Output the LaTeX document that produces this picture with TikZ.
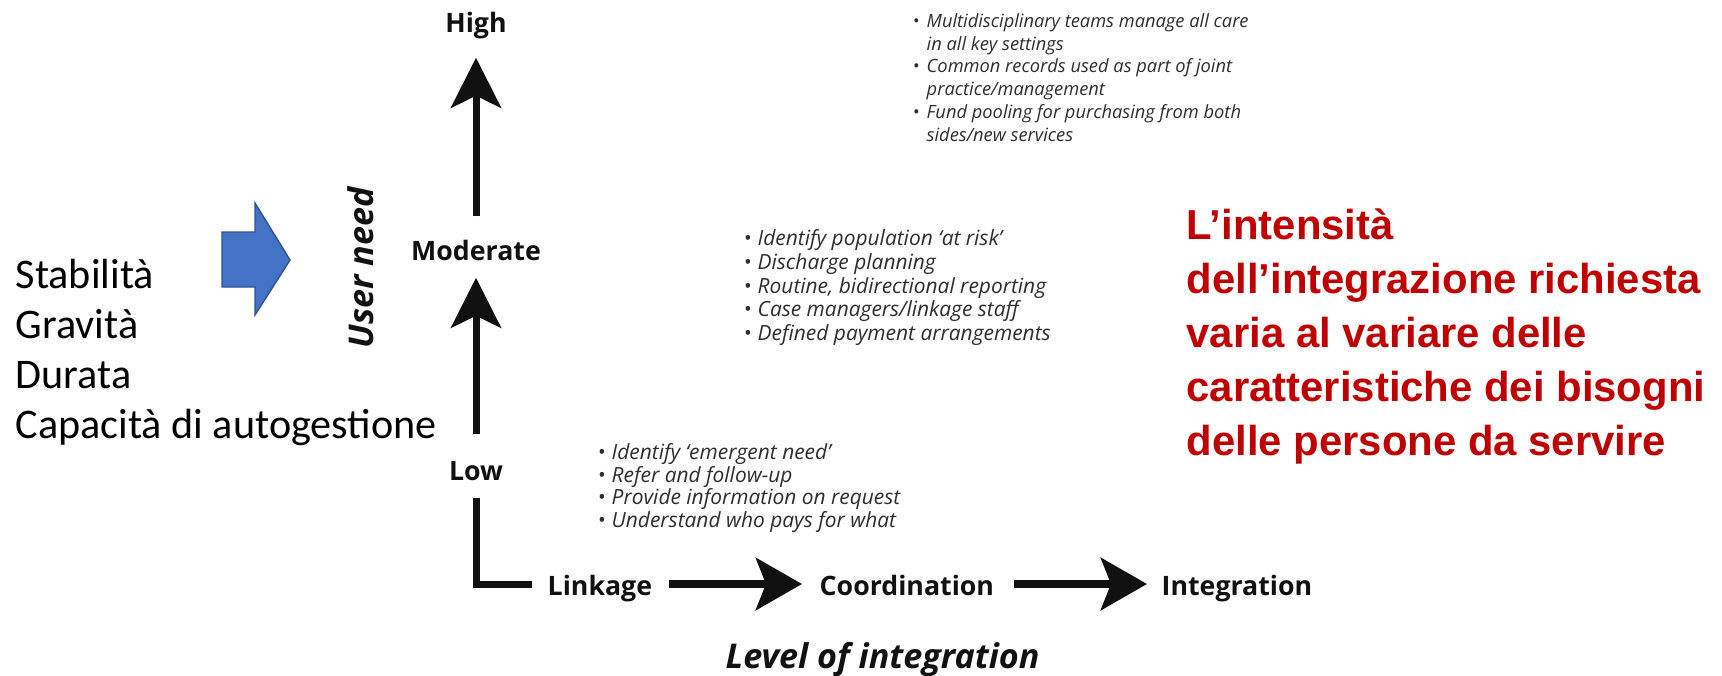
\documentclass[tikz,border=0pt]{standalone}
\usepackage{fontspec}
\usepackage{xcolor}
\usepackage{tikz}
\usetikzlibrary{arrows.meta,positioning}
\setmainfont{Carlito}
\newfontfamily\osans{Open Sans}
\newfontfamily\lsans{Liberation Sans}
\definecolor{cred}{HTML}{C00000}
\definecolor{cblue}{HTML}{4472C4}
\definecolor{cblueline}{HTML}{2F528F}
\definecolor{cink}{HTML}{111111}
\definecolor{cgray}{HTML}{2E2E2E}
\newcommand{\bpt}{\makebox[0.14cm][l]{\textbullet}}
\newcommand{\bind}{\hspace*{0.14cm}}

\begin{document}
\begin{tikzpicture}[x=0.01cm,y=-0.01cm,
  axl/.style={inner sep=0pt,text height=0.22cm,text depth=0pt,
              font=\osans\bfseries\fontsize{7.6}{9}\selectfont,text=cink},
  ttl/.style={inner sep=0pt,font=\osans\bfseries\itshape\fontsize{9.7}{11}\selectfont,text=cink},
  bul/.style={inner sep=0pt,align=left,font=\osans\itshape\fontsize{5.2}{6.45}\selectfont,text=cgray},
  bulb/.style={bul,font=\osans\itshape\fontsize{5.95}{6.75}\selectfont},
  var/.style={-{Stealth[length=0.5cm,width=0.5cm,inset=0.12cm]},line width=0.07cm,cink},
  har/.style={-{Stealth[length=0.46cm,width=0.52cm,inset=0.1cm]},line width=0.08cm,cink}]
\fill[white] (0,0) rectangle (1722,675);
\useasboundingbox (0,0) rectangle (1722,675);
\node[axl,anchor=base] (high) at (476,32) {High};
\node[axl,anchor=base] (mod) at (476,260) {Moderate};
\node[axl,anchor=base] (low) at (476,480) {Low};
\node[axl,anchor=base west] (link) at (547,595) {Linkage};
\node[axl,anchor=base west] (coord) at (819,595) {Coordination};
\node[axl,anchor=base west] (integ) at (1161,595) {Integration};
\node[ttl,rotate=90] (need) at (361,268) {User need};
\node[ttl,anchor=base west] (level) at (725,668) {Level of integration};
\draw[var,shorten <=0.21cm,shorten >=0.25cm] (mod) -- (high);
\draw[var,shorten <=0.23cm,shorten >=0.17cm] (low) -- (mod);
\draw[line width=0.07cm,cink,shorten <=0.17cm,shorten >=0.15cm] (low) |- (link);
\draw[har,shorten <=0.16cm,shorten >=0.17cm] (link) -- (coord);
\draw[har,shorten <=0.19cm,shorten >=0.14cm] (coord) -- (integ);
\node[bul,anchor=north west] (hi) at (912,13) {\bpt Multidisciplinary teams manage all care\\
  \bind in all key settings\\
  \bpt Common records used as part of joint\\
  \bind practice/management\\
  \bpt Fund pooling for purchasing from both\\
  \bind sides/new services};
\node[bulb,anchor=north west] (mi) at (743,229) {\bpt Identify population ‘at risk’\\
  \bpt Discharge planning\\
  \bpt Routine, bidirectional reporting\\
  \bpt Case managers/linkage staff\\
  \bpt Defined payment arrangements};
\node[bulb,anchor=north west,font=\osans\itshape\fontsize{5.95}{6.4}\selectfont] (lo) at (597,443)
  {\bpt Identify ‘emergent need’\\
  \bpt Refer and follow-up\\
  \bpt Provide information on request\\
  \bpt Understand who pays for what};
\node[anchor=north west,inner sep=0pt,align=left,font=\fontsize{12}{14.23}\selectfont] (crit) at (15,258)
  {Stabilità\\Gravità\\Durata\\Capacità di autogestione};
\draw[fill=cblue,draw=cblueline,line width=0.4pt] (222,232) -- (255,232) -- (255,203) -- (290,260)
  -- (255,315) -- (255,287) -- (222,287) -- cycle;
\node[anchor=north west,inner sep=0pt,align=left,text=cred,
      font=\lsans\bfseries\fontsize{11.9}{15.36}\selectfont] (msg) at (1186,208)
  {L’intensità\\dell’integrazione richiesta\\varia al variare delle\\caratteristiche dei bisogni\\delle persone da servire};
\end{tikzpicture}
\end{document}
